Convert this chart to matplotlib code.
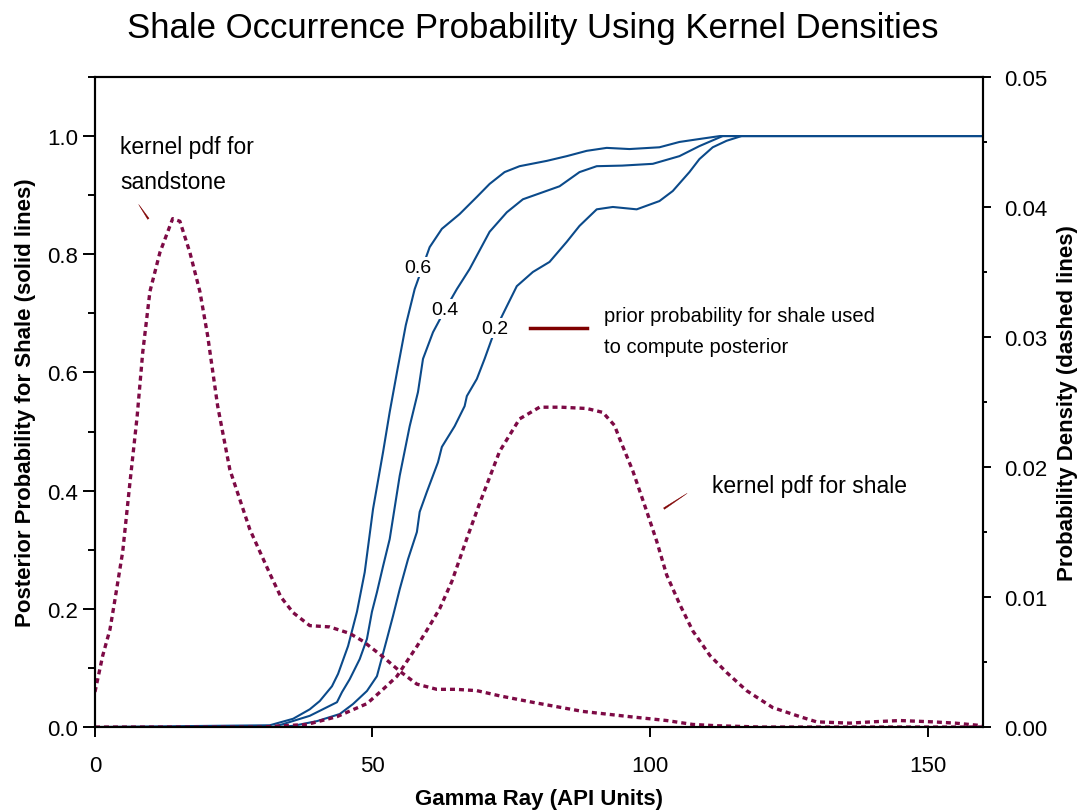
import matplotlib
matplotlib.use("Agg")
import matplotlib.pyplot as plt
from matplotlib.ticker import MultipleLocator

plt.rcParams['font.family'] = ['Liberation Sans', 'DejaVu Sans']

# Densidad kernel para arenisca (eje derecho)
gr_sand = [0, 1.4, 2.7, 3.6, 5, 6.3, 7.6, 8.6, 9.9, 11.7, 14.0, 15.3, 17.1, 18.9, 20.3, 22.1,
           24.3, 27.9, 31.5, 33.5, 35.7, 38.7, 42.3, 45.9, 48.3, 51.9, 54.9, 58.0, 61.6, 65,
           68.8, 72.9, 78.9, 87.9, 96.3, 103.0, 107.7, 112, 120, 130, 140, 150, 160]
pdf_sand = [0.0027, 0.0055, 0.0075, 0.0098, 0.0135, 0.0188, 0.0239, 0.0288, 0.0335, 0.0365,
            0.0391, 0.0389, 0.0365, 0.0335, 0.0301, 0.0247, 0.0198, 0.0152, 0.0118, 0.0100,
            0.0088, 0.0078, 0.0077, 0.0072, 0.0066, 0.0054, 0.0043, 0.0033, 0.0029, 0.0029,
            0.0028, 0.0024, 0.0019, 0.0012, 0.0008, 0.0005, 0.0002, 0.0001, 0, 0, 0, 0, 0]

# Densidad kernel para lutita (eje derecho)
gr_shale = [0, 10, 20, 30, 34, 38.2, 43.6, 49.0, 51.9, 54.4, 58.0, 60.3, 62.1, 64.3, 67, 69.3,
            72.9, 76.5, 80.1, 84, 88.6, 91.5, 93.6, 94.5, 96.9, 99.4, 101.2, 103.0, 105.4,
            107.7, 110.8, 113.8, 117.4, 122.1, 127.0, 130.0, 136.0, 140, 145.0, 150.9, 155, 160]
pdf_shale = [0, 0, 0, 0, 0.0001, 0.0002, 0.0008, 0.0018, 0.0029, 0.0039, 0.0062, 0.0078, 0.0091,
             0.0112, 0.0145, 0.0172, 0.0212, 0.0237, 0.0246, 0.0246, 0.0245, 0.0242, 0.0232,
             0.0222, 0.0197, 0.0166, 0.0143, 0.0117, 0.0094, 0.0074, 0.0055, 0.0042, 0.0028,
             0.0015, 0.0008, 0.0004, 0.0003, 0.0004, 0.0005, 0.0004, 0.0003, 0.0001]

# Probabilidad posterior para distintas probabilidades a priori (eje izquierdo)
gr_post06 = [0, 31.5, 35.7, 38.7, 40.5, 42.7, 43.8, 45.6, 47.2, 48.6, 50.1, 51.9, 53.1, 54.5,
             56, 57.6, 60.3, 62.5, 65.7, 68.8, 71.1, 73.8, 76.5, 81.4, 85.0, 88.6, 92.2, 96.3,
             101.7, 105.3, 108.9, 112.6, 160]
post06 = [0, 0.003, 0.014, 0.030, 0.044, 0.069, 0.090, 0.137, 0.195, 0.262, 0.369, 0.465, 0.533,
          0.605, 0.68, 0.741, 0.812, 0.843, 0.868, 0.897, 0.919, 0.939, 0.949, 0.958, 0.966,
          0.975, 0.980, 0.978, 0.981, 0.990, 0.995, 1.0, 1.0]

gr_post04 = [0, 32, 33.9, 38.7, 43.6, 44.5, 45.9, 47.7, 49.0, 49.9, 50.8, 51.9, 53.1, 54.9, 56.7,
             58.2, 59.1, 60.9, 63, 65.2, 67.5, 71.1, 74.2, 77.1, 80.7, 83.7, 87.3, 90.4, 95,
             100.5, 105.3, 108.9, 113.1, 160]
post04 = [0, 0, 0.005, 0.019, 0.042, 0.059, 0.081, 0.115, 0.149, 0.195, 0.228, 0.272, 0.318,
          0.425, 0.509, 0.567, 0.623, 0.668, 0.705, 0.741, 0.775, 0.838, 0.871, 0.893, 0.905,
          0.915, 0.939, 0.949, 0.950, 0.953, 0.966, 0.983, 1.0, 1.0]

gr_post02 = [0, 33, 35.7, 40.0, 44.1, 46.5, 49.0, 50.8, 52.6, 53.7, 54.9, 56.4, 58.0, 58.5, 59.8,
             61.8, 62.5, 64.8, 66.6, 67.0, 68.8, 70.2, 72, 74.2, 76.0, 78.9, 81.9, 85.0, 87.3,
             90.4, 93.3, 97.6, 101.7, 104.1, 107.1, 108.9, 111.3, 113.8, 116.5, 160]
post02 = [0, 0, 0.002, 0.010, 0.022, 0.039, 0.061, 0.086, 0.149, 0.188, 0.233, 0.284, 0.330,
          0.364, 0.398, 0.448, 0.474, 0.509, 0.543, 0.560, 0.589, 0.623, 0.67, 0.712, 0.746,
          0.770, 0.787, 0.821, 0.848, 0.876, 0.880, 0.876, 0.890, 0.907, 0.939, 0.961, 0.981,
          0.992, 1.0, 1.0]

azul = "#0b4a8a"
granate = "#7d0a45"
rojo = "#7f0000"

fig = plt.figure(figsize=(10.78, 8.12), dpi=100)
ax = fig.add_axes([0.0881, 0.1034, 0.8238, 0.8006])
ax2 = ax.twinx()

# Curvas posteriores
ax.plot(gr_post06, post06, color=azul, lw=1.5)
ax.plot(gr_post04, post04, color=azul, lw=1.5)
ax.plot(gr_post02, post02, color=azul, lw=1.5)

# Etiquetas de las curvas
for xx, yy, txt in [(58.2, 0.778, "0.6"), (63.0, 0.707, "0.4"), (72.0, 0.675, "0.2")]:
    ax.text(xx, yy, txt, fontsize=14, ha="center", va="center", zorder=5,
            bbox=dict(facecolor="white", edgecolor="none", pad=1.0))

# Densidades kernel
ax2.plot(gr_sand, pdf_sand, color=granate, lw=2.4, dashes=(1.5, 1.2))
ax2.plot(gr_shale, pdf_shale, color=granate, lw=2.4, dashes=(1.5, 1.2))

ax.set_xlim(0, 160)
ax.set_ylim(0, 1.1)
ax2.set_ylim(0, 0.05)

ax.xaxis.set_major_locator(MultipleLocator(50))
ax.yaxis.set_major_locator(MultipleLocator(0.2))
ax.yaxis.set_minor_locator(MultipleLocator(0.1))
ax2.yaxis.set_major_locator(MultipleLocator(0.01))
ax2.yaxis.set_minor_locator(MultipleLocator(0.005))
ax.yaxis.set_major_formatter(lambda v, p: f"{v:.1f}")
ax2.yaxis.set_major_formatter(lambda v, p: f"{v:.2f}")

ax.tick_params(axis="x", which="major", direction="out", length=7, width=1.4,
               labelsize=16, pad=13, top=False)
ax.tick_params(axis="y", which="major", direction="out", length=9, width=1.4,
               labelsize=16, pad=3)
ax.tick_params(axis="y", which="minor", direction="out", length=5, width=1.4)
ax2.tick_params(axis="y", which="major", direction="out", length=6, width=1.4,
                labelsize=16, pad=9)
ax2.tick_params(axis="y", which="minor", direction="out", length=3, width=1.4)

for a in (ax, ax2):
    for s in a.spines.values():
        s.set_linewidth(1.5)

ax.set_xlabel("Gamma Ray (API Units)", fontsize=16, fontweight="bold", labelpad=9)
ax.set_ylabel("Posterior Probability for Shale (solid lines)", fontsize=16,
              fontweight="bold", labelpad=8)
ax2.set_ylabel("Probability Density (dashed lines)", fontsize=16, fontweight="bold",
               labelpad=7)
fig.suptitle("Shale Occurrence Probability Using Kernel Densities", fontsize=25,
             x=0.494, y=0.985)

# Anotaciones
ax.text(4.5, 0.953, "kernel pdf for\nsandstone", fontsize=16.5, ha="left", va="center",
        linespacing=1.65)
ax.annotate("", xy=(7.6, 0.888), xytext=(9.9, 0.856),
            arrowprops=dict(arrowstyle="wedge,tail_width=0.12", color=rojo, lw=0.3))
ax.text(111.1, 0.408, "kernel pdf for shale", fontsize=16.5, ha="left", va="center")
ax.annotate("", xy=(107.1, 0.398), xytext=(102.1, 0.367),
            arrowprops=dict(arrowstyle="wedge,tail_width=0.12", color=rojo, lw=0.3))
ax.plot([78.3, 88.6], [0.675, 0.675], color=rojo, lw=2.5)
ax.text(91.7, 0.670, "prior probability for shale used\nto compute posterior", fontsize=14.5,
        ha="left", va="center", linespacing=1.75)

fig.savefig("out.png", dpi=100)
